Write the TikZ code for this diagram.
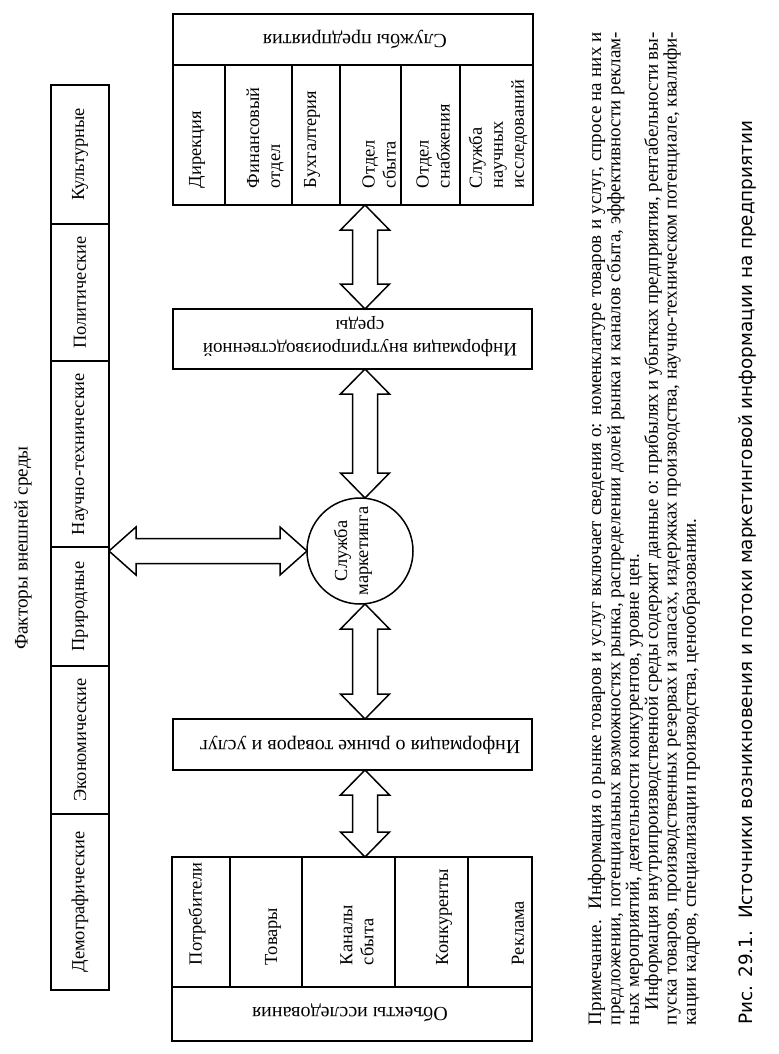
\documentclass[tikz,border=0pt]{standalone}
\usepackage{fontspec}
\setmainfont{Liberation Serif}
\newfontfamily\capfont{DejaVu Sans}
\usetikzlibrary{calc}
\newcommand\dblarrowV[2]{%
  \draw[arr] (#1) -- ($(#1)+(24.5,25)$) -- ($(#1)+(12.5,25)$) -- ($(#2)+(12.5,-25)$) -- ($(#2)+(24.5,-25)$) -- (#2)
    -- ($(#2)+(-24.5,-25)$) -- ($(#2)+(-12.5,-25)$) -- ($(#1)+(-12.5,25)$) -- ($(#1)+(-24.5,25)$) -- cycle;}
\newcommand\dblarrowH[2]{%
  \draw[arr] (#1) -- ($(#1)+(27,-24)$) -- ($(#1)+(27,-12.5)$) -- ($(#2)+(-27,-12.5)$) -- ($(#2)+(-27,-24)$) -- (#2)
    -- ($(#2)+(-27,24)$) -- ($(#2)+(-27,12.5)$) -- ($(#1)+(27,12.5)$) -- ($(#1)+(27,24)$) -- cycle;}
\begin{document}
\begin{tikzpicture}[x=0.5pt,y=-0.5pt,line width=0.75pt,
  box/.style={draw, rectangle, inner sep=0pt, outer sep=0pt, font=\fontsize{9.2}{10.5}\selectfont},
  fbox/.style={box, minimum width=29pt},
  lbl/.style={inner sep=0pt, outer sep=0pt, font=\fontsize{9.2}{10.5}\selectfont, align=left},
  vlbl/.style={lbl, rotate=90, anchor=west},
  ulbl/.style={lbl, rotate=180, align=center, font=\fontsize{10}{11.5}\selectfont},
  arr/.style={draw, line width=0.75pt, line join=miter, fill=white}]
\useasboundingbox (0,0) rectangle (778,1054);

% external factors
\node[fbox, minimum height=69.5pt] (f1) at (80,154.5) {\rotatebox{90}{Культурные}};
\node[fbox, minimum height=68.5pt] (f2) at (80,292.5) {\rotatebox{90}{Политические}};
\node[fbox, minimum height=93pt]   (f3) at (80,454)   {\rotatebox{90}{Научно-технические}};
\node[fbox, minimum height=59.5pt] (f4) at (80,606.5) {\rotatebox{90}{Природные}};
\node[fbox, minimum height=74pt]   (f5) at (80,740)   {\rotatebox{90}{Экономические}};
\node[fbox, minimum height=88pt]   (f6) at (80,902)   {\rotatebox{90}{Демографические}};
\node[lbl, rotate=90, font=\fontsize{9.6}{11}\selectfont] (ftitle) at (23,548) {Факторы внешней среды};

% enterprise services
\node[box, minimum width=180pt, minimum height=25.5pt] (srvh) at (353,39.5) {};
\node[ulbl] (srvt) at (355,40) {Службы предприятия};
\node[box, minimum width=26pt,   minimum height=70pt] (s1) at (199,135) {};
\node[box, minimum width=33.5pt, minimum height=70pt] (s2) at (258.5,135) {};
\node[box, minimum width=24pt,   minimum height=70pt] (s3) at (316,135) {};
\node[box, minimum width=30.5pt, minimum height=70pt] (s4) at (370.5,135) {};
\node[box, minimum width=29.5pt, minimum height=70pt] (s5) at (430.5,135) {};
\node[box, minimum width=36.5pt, minimum height=70pt] (s6) at (496.5,135) {};
\node[vlbl] (s1t) at (197,188) {Дирекция};
\node[vlbl] (s2t) at (265,188) {Финансовый\\отдел};
\node[vlbl] (s3t) at (312,188) {Бухгалтерия};
\node[vlbl] (s4t) at (379,188) {Отдел\\сбыта};
\node[vlbl] (s5t) at (433,188) {Отдел\\снабжения};
\node[vlbl] (s6t) at (498,188) {Служба\\научных\\исследований};

% internal information
\node[box, minimum width=179.5pt, minimum height=30pt] (inf1) at (352.5,339) {};
\node[ulbl, font=\fontsize{9.5}{11.5}\selectfont] (inf1t) at (360,337) {Информация внутрипроизводственной\\среды};

% marketing service
\node[draw, circle, minimum size=53pt, inner sep=0pt, outer sep=0pt] (mk) at (360,551) {};
\node[lbl, rotate=90, align=center] (mkt) at (353,551) {Служба\\маркетинга};

% market information
\node[box, minimum width=179.5pt, minimum height=25.5pt] (inf2) at (352.5,744.5) {};
\node[ulbl] (inf2t) at (360,745) {Информация о рынке товаров и услуг};

% research objects
\node[box, minimum width=29pt,   minimum height=65pt] (o1) at (201,922) {};
\node[box, minimum width=36pt,   minimum height=65pt] (o2) at (266,922) {};
\node[box, minimum width=46.5pt, minimum height=65pt] (o3) at (348.5,922) {};
\node[box, minimum width=36.5pt, minimum height=65pt] (o4) at (431.5,922) {};
\node[box, minimum width=32pt,   minimum height=65pt] (o5) at (500,922) {};
\node[box, minimum width=180pt, minimum height=27pt] (objh) at (352,1014) {};
\node[ulbl] (objt) at (350,1013) {Объекты исследования};
\node[vlbl] (o1t) at (197,965) {Потребители};
\node[vlbl] (o2t) at (273,965) {Товары};
\node[vlbl] (o3t) at (357,965) {Каналы\\сбыта};
\node[vlbl] (o4t) at (444,965) {Конкуренты};
\node[vlbl] (o5t) at (518,965) {Реклама};

% arrows
\coordinate (ax) at (365,0);
\coordinate (a1t) at (s4.south -| ax);
\coordinate (a1b) at (inf1.north -| ax);
\coordinate (a2t) at (inf1.south -| ax);
\coordinate (a2b) at (mk.north -| ax);
\coordinate (a3t) at (mk.south -| ax);
\coordinate (a3b) at (inf2.north -| ax);
\coordinate (a4t) at (inf2.south -| ax);
\coordinate (a4b) at (o3.north -| ax);
\coordinate (hl) at (f4.east |- mk.west);
\coordinate (hr) at (mk.west);
\dblarrowV{a1t}{a1b}
\dblarrowV{a2t}{a2b}
\dblarrowV{a3t}{a3b}
\dblarrowV{a4t}{a4b}
\dblarrowH{hl}{hr}

% note
\node[rotate=90, anchor=north west, inner sep=0pt, outer sep=0pt, font=\fontsize{9.5}{9.2}\selectfont] (note) at (588,1025) {%
\begin{tabular}{@{}l@{}}
\makebox[496.5pt][s]{Примечание.\ \ Информация о рынке товаров и услуг включает сведения о: номенклатуре товаров и услуг, спросе на них и}\\
\makebox[496.5pt][s]{предложении, потенциальных возможностях рынка, распределении долей рынка и каналов сбыта, эффективности реклам-}\\
ных мероприятий, деятельности конкурентов, уровне цен.\\
\hspace*{7.5pt}\makebox[489pt][s]{Информация внутрипроизводственной среды содержит данные о: прибылях и убытках предприятия, рентабельности вы-}\\
\makebox[496.5pt][s]{пуска товаров, производственных резервах и запасах, издержках производства, научно-техническом потенциале, квалифи-}\\
кации кадров, специализации производства, ценообразовании.
\end{tabular}};

% caption
\node[rotate=90, anchor=base west, inner sep=0pt, font=\capfont\fontsize{9.2}{11}\selectfont] (cap) at (752,1025) {Рис. 29.1.\ \ Источники возникновения и потоки маркетинговой информации на предприятии};
\end{tikzpicture}
\end{document}
